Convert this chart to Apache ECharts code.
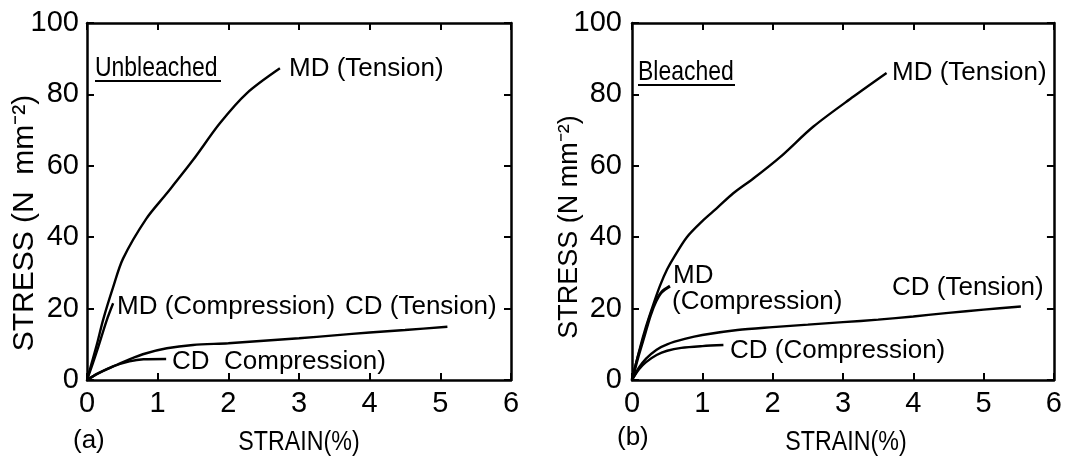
<!DOCTYPE html>
<html><head><meta charset="utf-8">
<script src="https://cdn.jsdelivr.net/npm/echarts@6/dist/echarts.min.js"></script>
<style>html,body{margin:0;padding:0;background:#fff}#c{width:1065px;height:456px}</style>
</head><body><div id="c"></div>
<script>
// ---- data (strain %, stress N mm^-2) ----
const xTicks = [0, 1, 2, 3, 4, 5, 6];
const yTicks = [0, 20, 40, 60, 80, 100];
const panelTags = ['(a)', '(b)'];
const panelTitles = ['Unbleached', 'Bleached'];

const unbleachedMDTension = [[0,0],[0.07,5],[0.14,10],[0.23,17],[0.37,26],[0.51,34],[0.84,45.2],[1.13,52.3],[1.5,61.6],[1.88,71.9],[2.26,80.3],[2.73,87.3]];
const unbleachedMDCompression = [[0,0],[0.08,4.5],[0.16,9.3],[0.28,16.8],[0.37,21.5]];
const unbleachedCDTension = [[0,0],[0.15,1.8],[0.37,3.8],[0.6,5.8],[0.84,7.5],[1.13,8.9],[1.5,9.8],[2.0,10.3],[2.5,11],[3.0,11.7],[3.5,12.5],[4.0,13.3],[4.5,14],[5.1,14.9]];
const unbleachedCDCompression = [[0,0],[0.15,1.8],[0.37,3.8],[0.6,5.2],[0.8,5.8],[1.12,5.9]];

const bleachedMDTension = [[0,0],[0.1,8],[0.2,15],[0.3,21],[0.4,26.5],[0.5,31],[0.6,34.5],[0.78,40],[1.0,44.5],[1.2,48],[1.44,52.3],[1.73,56.5],[2.11,62.5],[2.58,71],[3.15,79.4],[3.62,86]];
const bleachedMDCompression = [[0,0],[0.08,6],[0.17,12],[0.26,18],[0.34,22],[0.42,24.6],[0.54,26.3]];
const bleachedCDTension = [[0,0],[0.1,3.5],[0.2,6],[0.35,8.5],[0.5,10],[0.75,11.5],[1.0,12.6],[1.5,14],[2.0,14.8],[2.5,15.5],[3.0,16.2],[3.5,16.9],[4.0,17.8],[4.5,18.8],[5.0,19.7],[5.53,20.6]];
const bleachedCDCompression = [[0,0],[0.1,3],[0.2,5],[0.35,7],[0.5,8.2],[0.7,9],[1.0,9.5],[1.3,9.8]];

// ---- chart ----
const SANS = "'Liberation Sans', Arial, sans-serif";
const chart = echarts.init(document.getElementById('c'));

const grids = [
  {left: 87, right: 554, top: 23, bottom: 76},
  {left: 632, right: 11, top: 23, bottom: 76}
];
const lineStyleAxis = {color: '#000', width: 2.5};
const tickStyle = {show: true, inside: true, length: 7, lineStyle: {color: '#000', width: 2}};

const xAxes = [], yAxes = [];
grids.forEach((g, i) => {
  xAxes.push({
    type: 'value', gridIndex: i, min: xTicks[0], max: xTicks[xTicks.length-1], interval: 1,
    position: 'bottom', axisLine: {show: true, onZero: false, lineStyle: lineStyleAxis},
    axisTick: tickStyle, splitLine: {show: false},
    axisLabel: {show: true, margin: 9, color: '#000', fontSize: 29, fontFamily: SANS}
  });
  xAxes.push({
    type: 'value', gridIndex: i, min: xTicks[0], max: xTicks[xTicks.length-1], interval: 1,
    position: 'top', axisLine: {show: true, onZero: false, lineStyle: lineStyleAxis},
    axisTick: tickStyle, axisLabel: {show: false}, splitLine: {show: false}
  });
  yAxes.push({
    type: 'value', gridIndex: i, min: yTicks[0], max: yTicks[yTicks.length-1], interval: 20,
    position: 'left', axisLine: {show: true, onZero: false, lineStyle: lineStyleAxis},
    axisTick: tickStyle, splitLine: {show: false},
    axisLabel: {show: true, margin: i === 0 ? 8 : 10, color: '#000', fontSize: 29, fontFamily: SANS}
  });
  yAxes.push({
    type: 'value', gridIndex: i, min: yTicks[0], max: yTicks[yTicks.length-1], interval: 20,
    position: 'right', axisLine: {show: true, onZero: false, lineStyle: lineStyleAxis},
    axisTick: tickStyle, axisLabel: {show: false}, splitLine: {show: false}
  });
});

function curve(data, panel, w) {
  return {
    type: 'line', data: data, xAxisIndex: panel*2, yAxisIndex: panel*2,
    showSymbol: false, smooth: 0.3,
    lineStyle: {color: '#000', width: w || 2.4}, silent: true, animation: false
  };
}

const series = [
  curve(unbleachedMDTension, 0), curve(unbleachedMDCompression, 0), curve(unbleachedCDTension, 0), curve(unbleachedCDCompression, 0),
  curve(bleachedMDTension, 1), curve(bleachedMDCompression, 1, 3), curve(bleachedCDTension, 1), curve(bleachedCDCompression, 1)
];

function txt(s, x, y, size, extra, align) {
  return Object.assign({type: 'text', x: x, y: y, silent: true,
    style: {text: s, fill: '#000', font: size + 'px ' + SANS, textVerticalAlign: 'middle', textAlign: align || 'left'}}, extra || {});
}
function uline(x1, x2, y) {
  return {type: 'line', silent: true, shape: {x1: x1, y1: y, x2: x2, y2: y}, style: {stroke: '#000', lineWidth: 2}};
}
const narrow = {scaleX: 0.82};

const graphic = [
  // y axis titles
  {type: 'text', x: 25, y: 223, rotation: Math.PI/2, silent: true,
   style: {text: 'STRESS (N  mm\u207B\u00B2)', fill: '#000', font: '30px ' + SANS, textAlign: 'center', textVerticalAlign: 'middle'}},
  {type: 'text', x: 570, y: 227, rotation: Math.PI/2, silent: true,
   style: {text: 'STRESS (N mm\u207B\u00B2)', fill: '#000', font: '27px ' + SANS, textAlign: 'center', textVerticalAlign: 'middle'}},
  // x axis titles
  txt('STRAIN(%)', 299, 442, 28, {scaleX: 0.83}, 'center'),
  txt('STRAIN(%)', 846, 442, 28, {scaleX: 0.83}, 'center'),
  // panel tags
  txt(panelTags[0], 73, 441, 26),
  txt(panelTags[1], 617, 438, 26),
  // titles
  txt(panelTitles[0], 95, 68, 28, narrow), uline(95, 221, 81),
  txt(panelTitles[1], 638, 72, 28, narrow), uline(638, 735, 85),
  // left annotations
  txt('MD (Tension)', 289, 69, 26),
  txt('MD (Compression)', 117, 307, 26),
  txt('CD (Tension)', 345, 307, 26),
  txt('CD  Compression)', 172, 362, 26),
  // right annotations
  txt('MD (Tension)', 892, 73, 26),
  txt('MD', 673, 276, 26),
  txt('(Compression)', 672, 302, 26),
  txt('CD (Tension)', 892, 288, 26),
  txt('CD (Compression)', 730, 351, 26)
];

chart.setOption({
  animation: false,
  backgroundColor: '#fff',
  grid: grids,
  xAxis: xAxes,
  yAxis: yAxes,
  series: series,
  graphic: graphic
});
</script></body></html>
